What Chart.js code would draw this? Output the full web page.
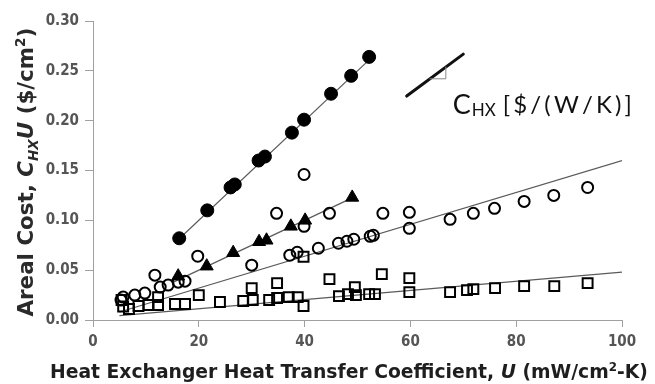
<!DOCTYPE html>
<html lang="en">
<head>
    <meta charset="utf-8">
    <title>Areal Cost vs Heat Transfer Coefficient</title>
    <script src="https://cdn.jsdelivr.net/npm/chart.js"></script>
    <style>
        body, html { margin: 0; padding: 0; background: white; }
        #box { width: 655px; height: 384px; }
    </style>
</head>
<body>
    <div id="box"><canvas id="chart"></canvas></div>
    <script>
        // Data: U (mW/cm2-K) and areal cost ($/cm2)
        const filledU = [16.3, 21.6, 26.0, 26.8, 31.3, 32.5, 37.6, 39.9, 45.0, 48.8, 52.2];
        const filledV = [0.082, 0.110, 0.133, 0.136, 0.160, 0.164, 0.188, 0.201, 0.227, 0.245, 0.264];

        const triU = [16.1, 21.5, 26.5, 31.4, 32.8, 37.4, 40.1, 49.0];
        const triV = [0.044, 0.054, 0.0675, 0.0785, 0.080, 0.094, 0.100, 0.123];

        const openU = [5.3, 5.7, 7.9, 9.8, 11.7, 12.7, 14.2, 16.1, 17.4, 19.8, 30.0, 34.7, 37.2, 38.6, 39.9, 39.9,
                       42.6, 44.7, 46.4, 48.0, 49.3, 52.4, 53.0, 54.8, 59.8, 59.8, 67.5, 71.9, 75.9, 81.5, 87.1, 93.5];
        const openV = [0.020, 0.023, 0.025, 0.027, 0.045, 0.033, 0.035, 0.038, 0.039, 0.064, 0.055, 0.107, 0.065, 0.068, 0.146, 0.094,
                       0.072, 0.107, 0.077, 0.079, 0.081, 0.084, 0.085, 0.107, 0.108, 0.092, 0.101, 0.107, 0.112, 0.119, 0.125, 0.133];

        const sqU = [5.4, 5.7, 6.8, 8.6, 10.5, 12.3, 12.3, 15.5, 17.4, 20.0, 24.0, 28.4, 30.0, 30.2, 33.3, 34.8, 34.8, 37.0, 38.7,
                     39.8, 39.8, 44.7, 46.5, 48.2, 49.5, 49.7, 52.2, 53.3, 54.6, 59.8, 59.8, 67.5, 70.7, 71.9, 76.0, 81.5, 87.2, 93.5];
        const sqV = [0.020, 0.0135, 0.011, 0.014, 0.015, 0.015, 0.023, 0.016, 0.016, 0.025, 0.018, 0.019, 0.032, 0.020, 0.020, 0.037, 0.022, 0.023, 0.023,
                     0.0635, 0.014, 0.041, 0.024, 0.026, 0.033, 0.025, 0.026, 0.026, 0.046, 0.042, 0.028, 0.028, 0.030, 0.031, 0.032, 0.034, 0.034, 0.037];

        // Trend line end points
        const fitFilledU = [16, 52.6];
        const fitFilledV = [0.080, 0.263];
        const fitTriU = [15, 49];
        const fitTriV = [0.0375, 0.1225];
        const fitOpenU = [5, 100];
        const fitOpenV = [0.008, 0.160];
        const fitSqU = [5, 100];
        const fitSqV = [0.0043, 0.048];

        // Slope key drawn in the upper right (data units)
        const keyLineU = [59.3, 70.0];
        const keyLineV = [0.2247, 0.2668];
        const keyTriU = [63.7, 66.7];
        const keyTextU = 68.0;
        const keyTextV = 0.2077;

        const xTicks = [0, 20, 40, 60, 80, 100];
        const yTicks = [0, 0.05, 0.10, 0.15, 0.20, 0.25, 0.30];

        const TICKFAM = "'DejaVu Sans Condensed', 'DejaVu Sans', sans-serif";
        const FAM = "'DejaVu Sans', sans-serif";
        const pts = (u, v) => u.map((x, i) => ({ x: x, y: v[i] }));

        function fitLine(u, v) {
            return {
                type: 'line', data: pts(u, v), borderColor: '#5a5a5a', borderWidth: 1.2,
                pointRadius: 0, fill: false, tension: 0, order: 2
            };
        }

        // Draws runs of text with their own fonts, centred on x and scaled to a target width
        function drawRich(ctx, segs, x, y, target) {
            const fontOf = (s, k) => (s.style || '') + ' bold ' + (s.size * k).toFixed(2) + 'px ' + FAM;
            let total = 0;
            segs.forEach(s => { ctx.font = fontOf(s, 1); total += ctx.measureText(s.t).width; });
            const k = target / total;
            let cx = x - target / 2;
            segs.forEach(s => {
                ctx.font = fontOf(s, k);
                ctx.fillText(s.t, cx, y + (s.dy || 0) * k);
                cx += ctx.measureText(s.t).width;
            });
        }

        const decorations = {
            id: 'decorations',
            afterDraw(chart) {
                const ctx = chart.ctx;
                const xs = chart.scales.x, ys = chart.scales.y;
                ctx.save();
                ctx.textBaseline = 'alphabetic';
                ctx.textAlign = 'left';

                // x axis title
                ctx.fillStyle = '#1e1e1e';
                drawRich(ctx, [
                    { t: 'Heat Exchanger Heat Transfer Coefficient, ', size: 19 },
                    { t: 'U', size: 19, style: 'italic' },
                    { t: ' (mW/cm', size: 19 },
                    { t: '2', size: 12, dy: -7 },
                    { t: '-K)', size: 19 }
                ], 349, 378, 598);

                // y axis title
                ctx.save();
                ctx.translate(33, 172);
                ctx.rotate(-Math.PI / 2);
                ctx.fillStyle = '#2a2a2a';
                drawRich(ctx, [
                    { t: 'Areal Cost, ', size: 19 },
                    { t: 'C', size: 19, style: 'italic' },
                    { t: 'HX', size: 12, style: 'italic', dy: 4 },
                    { t: 'U', size: 19, style: 'italic' },
                    { t: ' ($/cm', size: 19 },
                    { t: '2', size: 12, dy: -7 },
                    { t: ')', size: 19 }
                ], 0, 0, 289);
                ctx.restore();

                // slope key
                const lx0 = xs.getPixelForValue(keyLineU[0]), ly0 = ys.getPixelForValue(keyLineV[0]);
                const lx1 = xs.getPixelForValue(keyLineU[1]), ly1 = ys.getPixelForValue(keyLineV[1]);
                ctx.strokeStyle = '#111';
                ctx.lineWidth = 3;
                ctx.lineCap = 'round';
                ctx.beginPath(); ctx.moveTo(lx0, ly0); ctx.lineTo(lx1, ly1); ctx.stroke();
                const slope = (ly1 - ly0) / (lx1 - lx0);
                const ax = xs.getPixelForValue(keyTriU[0]), bx = xs.getPixelForValue(keyTriU[1]);
                const ay = ly0 + (ax - lx0) * slope, by = ly0 + (bx - lx0) * slope;
                ctx.strokeStyle = '#888';
                ctx.lineWidth = 1;
                ctx.beginPath(); ctx.moveTo(ax, ay); ctx.lineTo(bx, ay); ctx.lineTo(bx, by); ctx.stroke();

                const tx = xs.getPixelForValue(keyTextU), ty = ys.getPixelForValue(keyTextV);
                ctx.fillStyle = '#111';
                ctx.font = '27px Lato, sans-serif';
                ctx.fillText('C', tx, ty + 1);
                let cx = tx + ctx.measureText('C').width + 1;
                ctx.font = '17px Lato, sans-serif';
                ctx.fillText('HX', cx, ty + 3);
                cx += ctx.measureText('HX').width + 7;
                // spread the unit text over the width it takes in the figure
                ctx.font = '24px Lato, sans-serif';
                const unit = '[$/(W/K)]';
                const w = ctx.measureText(unit).width;
                const gap = Math.max(0, (128 - w) / (unit.length - 1));
                for (const ch of unit) {
                    ctx.fillText(ch, cx, ty);
                    cx += ctx.measureText(ch).width + gap;
                }
                ctx.restore();
            }
        };

        const ctx = document.getElementById('chart').getContext('2d');
        const chart = new Chart(ctx, {
            type: 'scatter',
            data: {
                datasets: [
                    fitLine(fitFilledU, fitFilledV),
                    fitLine(fitTriU, fitTriV),
                    fitLine(fitOpenU, fitOpenV),
                    fitLine(fitSqU, fitSqV),
                    {
                        label: 'filled', data: pts(filledU, filledV), pointStyle: 'circle', pointRadius: 6.5,
                        backgroundColor: '#000', borderColor: '#000', borderWidth: 1, order: 1
                    },
                    {
                        label: 'triangle', data: pts(triU, triV), pointStyle: 'triangle', pointRadius: 7.5,
                        backgroundColor: '#000', borderColor: '#000', borderWidth: 1, order: 1
                    },
                    {
                        label: 'open', data: pts(openU, openV), pointStyle: 'circle', pointRadius: 5.5,
                        backgroundColor: 'rgba(0,0,0,0)', borderColor: '#000', borderWidth: 2, order: 1
                    },
                    {
                        label: 'square', data: pts(sqU, sqV), pointStyle: 'rect', pointRadius: 7,
                        backgroundColor: 'rgba(0,0,0,0)', borderColor: '#000', borderWidth: 2, order: 1
                    }
                ]
            },
            options: {
                responsive: true,
                maintainAspectRatio: false,
                animation: false,
                layout: { padding: { left: 0, right: 33, top: 21, bottom: 0 } },
                plugins: { legend: { display: false }, tooltip: { enabled: false } },
                scales: {
                    x: {
                        type: 'linear', min: 0, max: 100,
                        afterBuildTicks: s => { s.ticks = xTicks.map(v => ({ value: v })); },
                        afterFit: s => { s.height = 64; },
                        grid: { drawOnChartArea: false, drawTicks: true, tickLength: 7, color: '#a0a0a0' },
                        border: { display: true, color: '#a0a0a0', width: 1 },
                        ticks: { color: '#555', padding: 6, font: { family: TICKFAM, size: 15, weight: 'bold' } }
                    },
                    y: {
                        type: 'linear', min: 0, max: 0.30,
                        afterBuildTicks: s => { s.ticks = yTicks.map(v => ({ value: v })); },
                        afterFit: s => { s.width = 93; },
                        grid: { drawOnChartArea: false, drawTicks: true, tickLength: 8, color: '#a0a0a0' },
                        border: { display: true, color: '#a0a0a0', width: 1 },
                        ticks: {
                            color: '#555', padding: 6, font: { family: TICKFAM, size: 15, weight: 'bold' },
                            callback: v => v.toFixed(2)
                        }
                    }
                }
            },
            plugins: [decorations]
        });
    </script>
</body>
</html>
